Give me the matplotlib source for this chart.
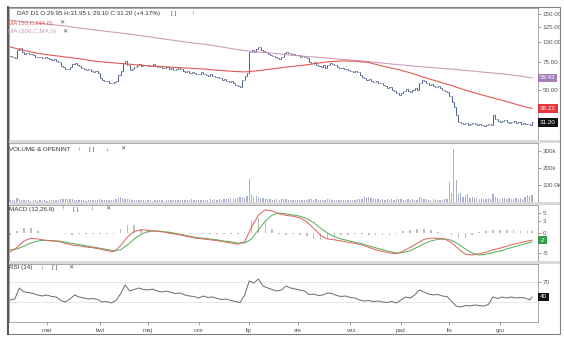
import matplotlib

matplotlib.use("Agg")
import matplotlib.pyplot as plt
import matplotlib.transforms as mtransforms
import numpy as np
import pandas as pd
from matplotlib.patches import Rectangle
from matplotlib.ticker import NullLocator

W, H = 564, 337
FONT = ["Liberation Sans", "DejaVu Sans"]

start_date = "2022-02-07"
month_labels = ["mar", "kwi", "maj", "cze", "lip", "sie", "wrz", "paź", "lis", "gru"]

# daily closes
closes = [
    82.0, 80.5, 79.0, 89.5, 92.0, 86.0, 84.5, 85.0, 83.5, 84.0,
    82.5, 81.0, 80.0, 80.5, 79.0, 80.0, 79.5, 78.0, 77.0, 78.0,
    76.0, 75.0, 71.0, 69.5, 68.0, 67.5, 70.0, 73.0, 74.0, 72.0,
    70.5, 69.0, 68.0, 66.5, 67.5, 66.0, 64.5, 65.5, 64.0, 59.0,
    57.5, 56.5, 57.0, 55.5, 55.0, 56.0, 57.0, 62.0, 66.0, 74.0,
    75.5, 72.0, 67.0, 68.0, 70.0, 71.5, 72.5, 71.0, 71.5, 72.0,
    70.5, 71.0, 72.5, 71.0, 70.0, 70.5, 69.0, 68.5, 69.5, 68.0,
    68.5, 67.0, 68.0, 69.0, 67.5, 66.0, 65.0, 65.5, 64.0, 64.5,
    63.5, 62.5, 63.0, 64.5, 63.0, 62.0, 61.5, 62.5, 61.0, 60.5,
    60.0, 59.0, 58.0, 58.5, 57.0, 56.0, 57.0, 55.0, 54.0, 53.0,
    52.0, 58.0, 61.0, 63.5, 87.0, 88.5, 86.0, 90.0, 93.0, 89.0,
    87.5, 86.0, 84.5, 83.0, 82.0, 80.5, 79.0, 78.0, 80.0, 85.0,
    86.5, 85.0, 84.0, 84.5, 83.0, 82.5, 81.0, 82.0, 80.0, 79.0,
    75.0, 73.5, 74.5, 72.0, 71.0, 70.0, 71.5, 69.0, 72.0, 74.0,
    73.0, 71.5, 70.0, 69.0, 68.5, 67.5, 68.0, 66.5, 66.0, 65.0,
    65.5, 64.5, 62.0, 60.0, 59.5, 58.0, 58.5, 57.0, 56.0, 56.5,
    55.5, 55.0, 54.0, 52.5, 51.0, 52.0, 50.0, 49.0, 47.5, 46.5,
    48.0, 49.5, 50.5, 49.0, 48.5, 50.0, 51.0, 50.0, 55.0, 58.0,
    57.0, 55.5, 54.0, 54.5, 53.0, 52.0, 52.5, 51.0, 50.0, 49.0,
    48.5, 46.0, 42.0, 39.0, 35.0, 31.5, 31.0, 30.5, 31.0, 30.0,
    30.5, 31.0, 30.5, 30.0, 30.5, 30.0, 29.5, 30.0, 30.5, 30.0,
    35.0, 33.0, 32.0, 31.5, 32.0, 32.5, 31.5, 31.0, 31.5, 32.0,
    31.0, 31.5, 30.5, 31.0, 30.5, 30.3, 29.95, 31.2,
]

# daily volume, thousands
volume_k = [
    12, 10, 9, 26, 20, 14, 11, 9, 10, 8,
    9, 11, 8, 10, 9, 12, 8, 10, 9, 11,
    10, 13, 18, 15, 16, 20, 17, 19, 14, 12,
    10, 9, 11, 8, 10, 9, 12, 10, 9, 16,
    12, 10, 9, 14, 11, 13, 15, 26, 30, 24,
    20, 16, 18, 13, 11, 10, 9, 12, 10, 8,
    9, 11, 8, 10, 12, 9, 11, 8, 10, 9,
    12, 10, 14, 9, 11, 10, 13, 9, 12, 15,
    10, 12, 9, 14, 11, 10, 13, 16, 12, 18,
    14, 16, 12, 18, 20, 15, 22, 17, 19, 24,
    28, 32, 26, 36, 137, 45, 30, 38, 28, 22,
    25, 18, 15, 20, 14, 12, 16, 13, 15, 20,
    16, 12, 14, 10, 12, 11, 13, 10, 12, 14,
    18, 15, 12, 16, 13, 11, 14, 12, 15, 17,
    13, 11, 10, 12, 14, 10, 11, 13, 9, 12,
    14, 16, 20, 18, 28, 24, 30, 22, 26, 20,
    16, 14, 18, 13, 15, 12, 16, 14, 18, 15,
    17, 14, 12, 15, 13, 16, 14, 12, 30, 26,
    20, 16, 14, 12, 15, 13, 11, 14, 12, 16,
    18, 120, 55, 310, 130, 48, 50, 30, 40, 48,
    25, 30, 26, 22, 18, 24, 20, 16, 22, 19,
    48, 30, 24, 20, 26, 22, 18, 25, 20, 16,
    22, 18, 24, 20, 28, 42, 35, 40,
]

# moving averages, read every 6th session (+ last)
ma50 = [
    93.0, 88.5, 84.8, 82.5, 80.5, 78.5, 76.0, 74.5, 73.3, 72.0,
    70.9, 70.0, 69.2, 68.4, 67.6, 66.5, 65.5, 64.8, 66.0, 67.8,
    69.5, 71.0, 72.8, 75.0, 76.0, 75.7, 74.3, 70.5, 67.5, 64.0,
    60.0, 56.5, 53.2, 49.8, 47.0, 44.5, 42.2, 39.8, 38.22,
]
ma200 = [
    137.0, 134.0, 131.2, 128.7, 126.0, 122.5, 119.5, 116.5, 113.9, 111.0,
    108.0, 104.8, 102.0, 99.2, 97.0, 94.0, 91.0, 88.3, 86.5, 85.0,
    83.2, 81.7, 80.5, 79.2, 77.8, 76.6, 75.2, 73.6, 72.2, 70.9,
    69.7, 68.6, 67.5, 66.3, 65.0, 63.8, 62.6, 61.0, 59.43,
]

# MACD(12,26,9), read every 3rd session (+ last)
macd_line = [
    -4.7, -3.6, -2.0, -1.3, -1.5, -1.8, -2.0, -2.1, -2.6, -3.0,
    -3.2, -3.5, -3.7, -4.0, -4.4, -4.7, -3.2, -1.0, 0.4, 0.8,
    0.7, 0.5, 0.3, 0.0, -0.3, -0.6, -1.0, -1.3, -1.5, -1.7,
    -1.9, -2.2, -2.5, -2.8, -2.2, 1.5, 4.5, 5.8, 5.5, 4.8,
    4.4, 4.2, 3.8, 2.8, 1.2, -0.6, -1.5, -1.7, -2.0, -2.3,
    -2.6, -3.0, -3.6, -4.2, -4.6, -5.0, -5.2, -4.5, -3.6, -2.6,
    -1.6, -1.3, -1.3, -1.5, -2.4, -4.0, -5.3, -5.5, -5.2, -4.8,
    -4.2, -3.8, -3.3, -2.8, -2.4, -2.0, -1.8,
]
signal_line = [
    -4.2, -4.0, -3.3, -2.5, -2.0, -1.8, -1.9, -2.0, -2.3, -2.6,
    -2.9, -3.2, -3.5, -3.8, -4.1, -4.4, -4.2, -3.0, -1.5, -0.3,
    0.4, 0.5, 0.4, 0.2, -0.1, -0.4, -0.8, -1.1, -1.3, -1.5,
    -1.7, -2.0, -2.2, -2.5, -2.5, -1.5, 0.8, 3.0, 4.5, 5.0,
    4.8, 4.5, 4.2, 3.6, 2.6, 1.2, 0.0, -0.9, -1.5, -1.9,
    -2.3, -2.7, -3.2, -3.7, -4.2, -4.6, -5.0, -4.9, -4.4, -3.6,
    -2.7, -2.0, -1.6, -1.5, -1.8, -2.8, -4.0, -5.0, -5.5, -5.3,
    -4.9, -4.5, -4.0, -3.5, -3.0, -2.5, -2.2,
]

# RSI(14), read every 2nd session (+ last)
rsi = [
    34, 36, 58, 50, 49, 47, 44, 42, 44, 41,
    40, 33, 30, 36, 44, 40, 38, 36, 37, 35,
    30, 31, 28, 33, 46, 64, 52, 55, 58, 55,
    54, 56, 52, 50, 52, 49, 47, 48, 44, 42,
    41, 38, 42, 39, 40, 37, 35, 36, 33, 31,
    29, 44, 72, 68, 76, 62, 58, 55, 52, 54,
    62, 58, 56, 54, 52, 45, 46, 43, 44, 48,
    47, 43, 41, 42, 39, 38, 34, 32, 33, 31,
    32, 30, 29, 31, 28, 34, 40, 38, 44, 54,
    50, 46, 44, 45, 42, 41, 31, 22, 20, 23,
    22, 24, 23, 22, 25, 40, 37, 40, 38, 40,
    38, 39, 38, 34, 40,
]

N = len(closes)


def sample_x(step):
    return np.r_[np.arange(0, N - 1, step), N - 1]


def fx(px):
    return px / W


def fy(py):
    return 1 - py / H


LEFT, RIGHT = 9, 538
FS = 4.5
GRAY_TXT = "#555555"
BAR_COL = "#4a5b85"
MA50_COL = "#e05a52"
MA200_COL = "#cc98b8"

fig = plt.figure(figsize=(W / 100, H / 100), dpi=100)
fig.patch.set_facecolor("white")


def panel(top, bottom):
    ax = fig.add_axes([fx(LEFT), fy(bottom), fx(RIGHT) - fx(LEFT), (bottom - top) / H])
    ax.yaxis.tick_right()
    ax.tick_params(axis="y", labelsize=FS, colors=GRAY_TXT, length=2, width=0.4, pad=1.5)
    ax.tick_params(axis="x", bottom=False, labelbottom=False)
    for s in ax.spines.values():
        s.set_color("#9a9a9a")
        s.set_linewidth(0.6)
    ax.set_xlim(-0.5, 229.6)
    return ax


def value_box(ax, y, text, color):
    tr = mtransforms.blended_transform_factory(ax.transAxes, ax.transData)
    ax.text(1.004, y, text, transform=tr, fontsize=FS, color="white", family=FONT,
            va="center", ha="left",
            bbox=dict(boxstyle="square,pad=0.28", fc=color, ec="none"))


x = np.arange(N)
closes_a = np.array(closes)
opens = np.r_[closes_a[0], closes_a[:-1]]

# price
ax_p = panel(8, 140)
ax_p.set_yscale("log")
ax_p.vlines(x, np.minimum(opens, closes_a), np.maximum(opens, closes_a), color=BAR_COL, lw=0.7)
ax_p.hlines(opens, x - 0.45, x, color=BAR_COL, lw=0.6)
ax_p.hlines(closes_a, x, x + 0.45, color=BAR_COL, lw=0.6)
ax_p.plot(sample_x(6), ma200, color=MA200_COL, lw=0.75)
ax_p.plot(sample_x(6), ma50, color=MA50_COL, lw=0.8)
ax_p.set_ylim(24.2, 163.5)
ax_p.yaxis.set_minor_locator(NullLocator())
ax_p.set_yticks([50, 75, 100, 125, 150])
ax_p.set_yticklabels(["50.00", "75.00", "100.00", "125.00", "150.00"], family=FONT)
value_box(ax_p, ma200[-1], f"{ma200[-1]:.2f}", "#a67db8")
value_box(ax_p, ma50[-1], f"{ma50[-1]:.2f}", "#e8343a")
value_box(ax_p, closes[-1], f"{closes[-1]:.2f}", "#111111")

# volume
ax_v = panel(143, 202)
ax_v.bar(x, np.array(volume_k) * 1000, width=0.55, color="#a9b2cc")
ax_v.set_ylim(0, 347000)
ax_v.set_yticks([100000, 200000, 300000])
ax_v.set_yticklabels(["100.0k", "200k", "300k"], family=FONT)

# MACD
ax_m = panel(205, 261)
mx = sample_x(3)
hist = np.array(macd_line) - np.array(signal_line)
ax_m.bar(mx, hist, width=0.7, color="#bdbdbd")
ax_m.plot(mx, signal_line, color="#4fae55", lw=0.7)
ax_m.plot(mx, macd_line, color="#e06058", lw=0.7)
ax_m.set_ylim(-7, 7)
ax_m.set_yticks([-5, 0, 3, 5])
ax_m.set_yticklabels(["-5", "0", "3", "5"], family=FONT)
value_box(ax_m, macd_line[-1], f"{macd_line[-1]:.0f}", "#2f9e44")

# RSI
ax_r = panel(264, 322)
ax_r.axhline(70, color="#dddddd", lw=0.5)
ax_r.axhline(30, color="#dddddd", lw=0.5)
ax_r.plot(sample_x(2), rsi, color="#6a6a6a", lw=0.7)
ax_r.set_ylim(-10, 106)
ax_r.set_yticks([70])
ax_r.set_yticklabels(["70"], family=FONT)
value_box(ax_r, rsi[-1], f"{rsi[-1]:.0f}", "#111111")

dates = pd.bdate_range(start_date, periods=N)
month_pos = np.flatnonzero(dates.month[1:] != dates.month[:-1]) + 1
ax_r.set_xticks(month_pos)
ax_r.set_xticklabels(month_labels[: len(month_pos)], family=FONT)
ax_r.tick_params(axis="x", bottom=True, labelbottom=True, labelsize=FS,
                 colors=GRAY_TXT, length=2, width=0.4, pad=2)

# panel separators and frame
for top, bottom in [(140, 143), (202, 205), (261, 264)]:
    fig.patches.append(Rectangle((fx(LEFT), fy(bottom)), fx(560) - fx(LEFT), (bottom - top) / H,
                                 transform=fig.transFigure, fc="#d9d9d9", ec="none"))
fig.patches.append(Rectangle((fx(7), fy(334)), fx(560) - fx(7), 327 / H, transform=fig.transFigure,
                             fill=False, ec="#808080", lw=0.8))
fig.lines.append(plt.Line2D([fx(7.5), fx(7.5)], [fy(334), fy(7)], transform=fig.transFigure,
                            color="#555555", lw=1.4))


def label(px, py, text, color="#333333"):
    fig.text(fx(px), fy(py), text, fontsize=FS, color=color, family=FONT, va="center", ha="left")


label(17, 13, "DAT D1 O:29.95 H:31.95 L:29.10 C:31.20 (+4.17%)")
label(171, 13, "[ ]", GRAY_TXT)
label(191, 13, "↓", GRAY_TXT)
label(8, 23, "MA (50,C,MA,0)", MA50_COL)
label(59, 23, "✕", GRAY_TXT)
label(8, 32, "MA (200,C,MA,0)", MA200_COL)
label(62, 32, "✕", GRAY_TXT)

label(9, 149, "VOLUME & OPENINT")
label(77, 149, "↑", GRAY_TXT)
label(89, 149, "[ ]", GRAY_TXT)
label(105, 149, "↓", GRAY_TXT)
label(120, 149, "✕", GRAY_TXT)

label(9, 209, "MACD (12,26,9)")
label(61, 209, "↑", GRAY_TXT)
label(73, 209, "[ ]", GRAY_TXT)
label(90, 209, "↓", GRAY_TXT)
label(105, 209, "✕", GRAY_TXT)

label(9, 268, "RSI (14)")
label(40, 268, "↑", GRAY_TXT)
label(52, 268, "[ ]", GRAY_TXT)
label(68, 268, "✕", GRAY_TXT)

fig.savefig("out.png", dpi=100)
